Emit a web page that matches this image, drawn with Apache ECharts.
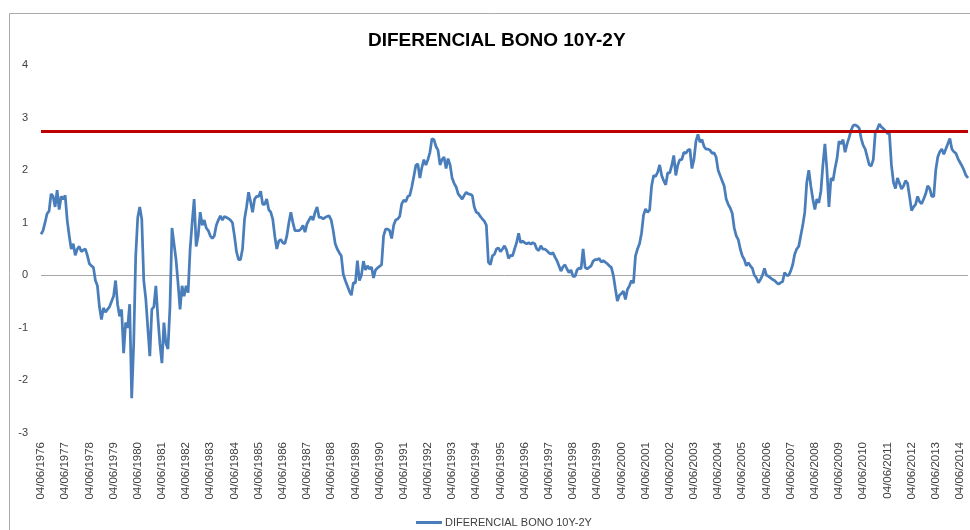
<!DOCTYPE html>
<html>
<head>
<meta charset="utf-8">
<script src="https://cdn.jsdelivr.net/npm/echarts@6/dist/echarts.min.js"></script>
<style>
  html, body { margin: 0; padding: 0; background: #fff; }
  #chart { width: 970px; height: 530px; }
</style>
</head>
<body>
<div id="chart"></div>
<script>
// monthly readings, starting 04/06/1976
const spread1976 = [
  0.78, 0.85, 1.0, 1.17, 1.22, 1.55, 1.5, 1.3, 1.62, 1.25,
  1.5, 1.45, 1.52, 1.05, 0.75, 0.5, 0.6, 0.38, 0.5, 0.55,
  0.45, 0.48, 0.5, 0.38, 0.22, 0.18, 0.15, -0.1, -0.2, -0.6,
  -0.84, -0.62, -0.7, -0.65, -0.6, -0.5, -0.4, -0.1, -0.55, -0.78,
  -0.65, -1.48, -0.9, -1.0, -0.55, -2.34, -1.3, 0.37, 1.1, 1.3,
  1.07, -0.1, -0.45, -1.0, -1.54, -0.65, -0.6, -0.2, -0.8, -1.3,
  -1.67, -0.9, -1.3, -1.4, -0.6, 0.9, 0.6, 0.3, -0.15, -0.65,
  -0.2, -0.4, -0.2, -0.33, 0.5, 1.0, 1.45, 0.55, 0.75, 1.2,
  0.95, 1.05, 0.9, 0.85, 0.75, 0.7, 0.75, 0.95, 1.05, 1.13,
  1.05, 1.12, 1.1, 1.08, 1.05, 1.0, 0.75, 0.45, 0.3, 0.3,
  0.5, 1.07, 1.3, 1.58, 1.4, 1.2, 1.45, 1.5, 1.5, 1.6,
  1.35, 1.35, 1.45, 1.25, 1.2, 1.07, 0.75, 0.5, 0.65, 0.68,
  0.62, 0.6, 0.75, 1.0, 1.2, 1.0, 0.85, 0.85, 0.85, 0.88,
  0.95, 0.82, 0.98, 1.05, 1.12, 1.05, 1.2, 1.3, 1.1, 1.1,
  1.07, 1.1, 1.12, 1.13
];
const spread1988 = [
  1.05, 0.85, 0.6, 0.5, 0.43, 0.37, 0.02, -0.1, -0.2, -0.3,
  -0.38, -0.14, -0.15, 0.28, -0.1, 0.0, 0.27, 0.1, 0.18, 0.12,
  0.16, -0.05, 0.1, 0.14, 0.17, 0.2, 0.75, 0.88, 0.88, 0.85,
  0.7, 0.95, 1.05, 1.07, 1.12, 1.36, 1.43, 1.4, 1.5, 1.52,
  1.68, 1.88, 2.09, 2.12, 1.85, 2.05, 2.2, 2.1, 2.2, 2.34,
  2.6, 2.58, 2.45, 2.38, 2.1, 2.2, 2.25, 2.03, 2.22, 2.1,
  1.85, 1.75, 1.68, 1.55, 1.5, 1.45, 1.52, 1.58, 1.55, 1.54,
  1.52, 1.3, 1.2, 1.18, 1.12, 1.07, 1.03, 0.95, 0.25, 0.2,
  0.37, 0.4, 0.5, 0.52, 0.45, 0.5, 0.56, 0.48, 0.32, 0.38,
  0.37, 0.5, 0.62, 0.8, 0.62, 0.65, 0.62, 0.6, 0.62, 0.59,
  0.62, 0.6, 0.5, 0.47, 0.56, 0.5, 0.5, 0.47, 0.43, 0.4,
  0.43, 0.35, 0.28, 0.18, 0.08, 0.16, 0.2, 0.12, 0.05, 0.1,
  -0.02, -0.02, 0.1, 0.14, 0.12, 0.5, 0.15, 0.12, 0.15, 0.18,
  0.27, 0.3, 0.3, 0.32, 0.25, 0.28, 0.25, 0.22, 0.18, 0.15,
  0.0, -0.25, -0.49, -0.38, -0.35, -0.3, -0.46, -0.27, -0.2, -0.1,
  -0.15, 0.37, 0.5, 0.6, 0.8, 1.15, 1.26, 1.2
];
const spread2001 = [
  1.24, 1.7, 1.9, 1.88, 1.96, 2.1, 1.9, 1.8, 1.72, 1.95,
  1.95, 2.09, 2.28, 1.9, 2.1, 2.2, 2.2, 2.34, 2.32, 2.38,
  2.4, 2.03, 2.2, 2.55, 2.68, 2.53, 2.58, 2.45, 2.4, 2.4,
  2.38, 2.32, 2.33, 2.25, 2.0, 1.9, 1.8, 1.7, 1.45, 1.35,
  1.28, 1.18, 0.9, 0.75, 0.68, 0.5, 0.37, 0.3, 0.18, 0.24,
  0.18, 0.13, 0.0, -0.05, -0.14, -0.08, 0.0, 0.13, 0.0, -0.02,
  -0.05, -0.08, -0.1, -0.14, -0.17, -0.14, -0.12, 0.05, 0.0, 0.0,
  0.08, 0.2, 0.4, 0.5, 0.55, 0.75, 0.95, 1.2, 1.77, 2.0,
  1.7, 1.45, 1.25, 1.45, 1.38, 1.6, 2.1, 2.5, 2.0, 1.3,
  1.85, 1.8, 2.03, 2.22, 2.55, 2.5, 2.58, 2.34, 2.5, 2.62,
  2.76, 2.85, 2.86, 2.84, 2.8, 2.6, 2.47, 2.4, 2.25, 2.1,
  2.08, 2.2, 2.72, 2.78, 2.88, 2.82, 2.79, 2.75, 2.7, 2.7,
  2.1, 1.77, 1.65, 1.85, 1.75, 1.64, 1.7, 1.8, 1.75, 1.5,
  1.23, 1.3, 1.35, 1.5, 1.4, 1.36, 1.45, 1.55, 1.7, 1.65,
  1.5, 1.5, 2.0, 2.25, 2.35, 2.4, 2.3, 2.4, 2.5, 2.6,
  2.4, 2.35, 2.32, 2.22, 2.15, 2.08, 2.0, 1.9, 1.85
];
const THRESHOLD = 2.74;
const SERIES_NAME = 'DIFERENCIAL BONO 10Y-2Y';
const START_YEAR = 1976;
const START_MONTH = 6;

const values = spread1976.concat(spread1988, spread2001);

// dd/mm/yyyy labels, one per month
const dates = values.map((v, i) => {
  const m = START_MONTH - 1 + i;
  const y = START_YEAR + Math.floor(m / 12);
  const mm = String(m % 12 + 1).padStart(2, '0');
  return '04/' + mm + '/' + y;
});

const FONT = '"Liberation Sans", Arial, sans-serif';

const myChart = echarts.init(document.getElementById('chart'));
const option = {
  animation: false,
  backgroundColor: '#fff',
  title: {
    text: SERIES_NAME,
    left: 363,
    top: 26,
    textStyle: { fontFamily: FONT, fontSize: 19, fontWeight: 'bold', color: '#000' }
  },
  legend: {
    data: [SERIES_NAME],
    left: 411,
    top: 512,
    icon: 'rect',
    itemWidth: 26,
    itemHeight: 3,
    itemGap: 4,
    textStyle: { fontFamily: FONT, fontSize: 11, color: '#404040', padding: [0, 0, 0, -2] }
  },
  grid: { left: 41, right: 2, top: 65, bottom: 97 },
  xAxis: {
    type: 'category',
    boundaryGap: false,
    data: dates,
    axisLine: { show: false },
    axisTick: { show: false },
    axisLabel: {
      rotate: 90,
      margin: 9,
      fontFamily: FONT,
      fontSize: 11.5,
      color: '#404040',
      interval: (i) => i % 12 === 0
    }
  },
  yAxis: {
    type: 'value',
    min: -3,
    max: 4,
    interval: 1,
    axisLine: { show: false },
    axisTick: { show: false },
    axisLabel: { margin: 13, fontFamily: FONT, fontSize: 11, color: '#404040' },
    splitLine: {
      show: true,
      lineStyle: {
        width: 1,
        // only the 0 line is drawn
        color: ['transparent', 'transparent', 'transparent', '#a6a6a6',
                'transparent', 'transparent', 'transparent', 'transparent']
      }
    }
  },
  graphic: [{
    type: 'rect',
    silent: true,
    shape: { x: 9.5, y: 13.5, width: 1200, height: 1200 },
    style: { fill: 'none', stroke: '#aaaaaa', lineWidth: 1 }
  }],
  series: [{
    name: SERIES_NAME,
    type: 'line',
    data: values,
    showSymbol: false,
    symbol: 'none',
    color: '#4a7ebb',
    lineStyle: { color: '#4a7ebb', width: 2.75 },
    markLine: {
      silent: true,
      symbol: 'none',
      label: { show: false },
      lineStyle: { color: '#c00000', width: 3, type: 'solid' },
      data: [{ yAxis: THRESHOLD }]
    }
  }]
};
option && myChart.setOption(option);
</script>
</body>
</html>
